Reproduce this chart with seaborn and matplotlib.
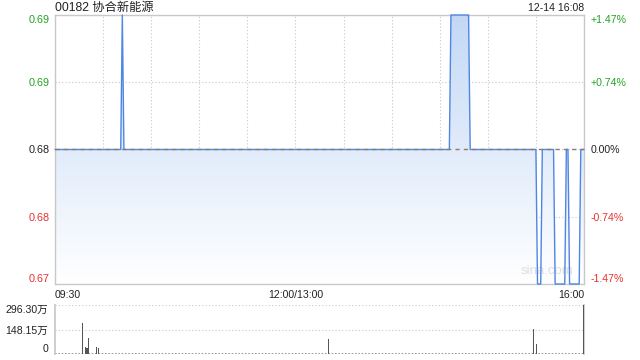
import numpy as np
import pandas as pd
import matplotlib
matplotlib.use("Agg")
import matplotlib.pyplot as plt
from matplotlib.colors import LinearSegmentedColormap
from matplotlib.path import Path
import seaborn as sns

# ---------------- data ----------------
title = "00182 协合新能源"
stamp = "12-14 16:08"
pre_close = 0.68
price_min, price_max = 0.67, 0.69

# minute index (0 = 09:30, 150 = 12:00/13:00, 330 = 16:00) and price at each change point
price_minutes = [0, 41, 42, 43, 246, 247, 258, 259, 300, 301, 303, 304, 311, 312,
                 318, 319, 320, 321, 327, 328, 330]
price_values = [0.68, 0.68, 0.69, 0.68, 0.68, 0.69, 0.69, 0.68, 0.68, 0.67, 0.67,
                0.68, 0.68, 0.67, 0.67, 0.68, 0.68, 0.67, 0.67, 0.68, 0.68]

# volume (万股)
vol_minutes = [17, 19, 20, 21, 26, 27, 171, 299, 301, 330]
vol_values = [189.0, 44.0, 34.0, 98.0, 44.0, 38.0, 89.0, 152.0, 59.0, 296.3]
vol_max = 296.30

left_ticks = [0.67, 0.675, 0.68, 0.685, 0.69]
left_labels = ["0.67", "0.68", "0.68", "0.69", "0.69"]
right_labels = ["-1.47%", "-0.74%", "0.00%", "+0.74%", "+1.47%"]
tick_colors = ["#e8312f", "#e8312f", "#222222", "#22a322", "#22a322"]
x_tick_pos = [0, 150, 330]
x_tick_labels = ["09:30", "12:00/13:00", "16:00"]
vol_ticks = [0, 148.15, 296.30]
vol_labels = ["0", "148.15万", "296.30万"]

# ---------------- style ----------------
sns.set_theme(style="white")
plt.rcParams["font.family"] = ["Liberation Sans", "Noto Sans CJK SC", "DejaVu Sans"]

W, H = 640, 360
fig = plt.figure(figsize=(6.4, 3.6), dpi=100)
L, R = 55 / W, 584 / W
ax = fig.add_axes([L, 1 - 284 / H, R - L, (284 - 15) / H])
axv = fig.add_axes([L, 1 - 354 / H, R - L, (354 - 305) / H])

grid_c = "#c8c8c8"
line_c = "#4f86e3"

df = pd.DataFrame({"minute": price_minutes, "price": price_values})

# gradient fill below the price line
poly = ax.fill_between(df["minute"], df["price"], price_min, facecolor="none",
                       edgecolor="none")
paths = poly.get_paths()
clip = Path.make_compound_path(*paths) if len(paths) > 1 else paths[0]
cmap = LinearSegmentedColormap.from_list("g", ["#ffffff", "#c3d8f6"])
grad = np.linspace(1, 0, 256).reshape(-1, 1)
im = ax.imshow(grad, extent=[0, 330, price_min, price_max], aspect="auto",
               cmap=cmap, origin="upper", zorder=1)
im.set_clip_path(clip, transform=ax.transData)

sns.lineplot(data=df, x="minute", y="price", ax=ax, color=line_c, linewidth=1.0,
             zorder=3, clip_on=False)
ax.axhline(pre_close, color="#8a7c6c", linewidth=1.0, dashes=(3, 3), zorder=4)

ax.set_xlim(0, 330)
ax.set_ylim(price_min, price_max)
ax.set_xlabel("")
ax.set_ylabel("")
ax.set_yticks(left_ticks)
ax.set_yticklabels(left_labels, fontsize=7.8)
for lab, c in zip(ax.get_yticklabels(), tick_colors):
    lab.set_color(c)
ax.get_yticklabels()[0].set_va("bottom")
ax.get_yticklabels()[-1].set_va("top")
ax.set_xticks(x_tick_pos)
ax.set_xticklabels(x_tick_labels, fontsize=7.6, color="#222222")
xl = ax.get_xticklabels()
xl[0].set_ha("left")
xl[-1].set_ha("right")
ax.set_xticks(range(0, 331, 30), minor=True)
ax.tick_params(axis="both", which="both", length=0, pad=4)
ax.tick_params(axis="x", pad=4)
ax.grid(True, which="both", axis="x", color=grid_c, linestyle=(0, (1, 2)), linewidth=0.8)
ax.grid(True, which="major", axis="y", color=grid_c, linestyle=(0, (1, 2)), linewidth=0.8)
for s in ax.spines.values():
    s.set_color(grid_c)
    s.set_linewidth(1.0)

ax2 = ax.twinx()
ax2.set_ylim(price_min, price_max)
ax2.set_yticks(left_ticks)
ax2.set_yticklabels(right_labels, fontsize=7.6)
for lab, c in zip(ax2.get_yticklabels(), tick_colors):
    lab.set_color(c)
ax2.get_yticklabels()[0].set_va("bottom")
ax2.get_yticklabels()[-1].set_va("top")
ax2.tick_params(axis="y", length=0, pad=5)
for s in ax2.spines.values():
    s.set_visible(False)
ax2.grid(False)

ax.text(0.93, 0.025, "sina.com", transform=ax.transAxes, ha="center", va="bottom",
        fontsize=9.5, color="#dedede", zorder=2)

# ---------------- volume panel ----------------
axv.bar(vol_minutes, vol_values, width=0.7, color="#555555", linewidth=0, zorder=3)
axv.set_xlim(0, 330.5)
axv.set_ylim(0, vol_max)
axv.set_yticks(vol_ticks)
axv.set_yticklabels(vol_labels, fontsize=7.6, color="#222222")
axv.get_yticklabels()[0].set_va("bottom")
axv.get_yticklabels()[-1].set_va("top")
axv.set_xticks([])
axv.tick_params(axis="y", length=0, pad=5)
for v in vol_ticks[1:]:
    axv.axhline(v, color=grid_c, linestyle=(0, (1, 2)), linewidth=0.8, zorder=1)
axv.axhline(0, color="#888888", linestyle=(0, (1, 1)), linewidth=1.2, zorder=2)
axv.spines["top"].set_visible(False)
axv.spines["bottom"].set_visible(False)
for k in ("left", "right"):
    axv.spines[k].set_color(grid_c)
axv.grid(False)

# ---------------- header ----------------
fig.text(55 / W, 1 - 7.5 / H, title, ha="left", va="center", fontsize=8.8,
         color="#222222")
fig.text(584 / W, 1 - 8 / H, stamp, ha="right", va="center", fontsize=7.6,
         color="#222222")

fig.savefig("out.png", dpi=100)
